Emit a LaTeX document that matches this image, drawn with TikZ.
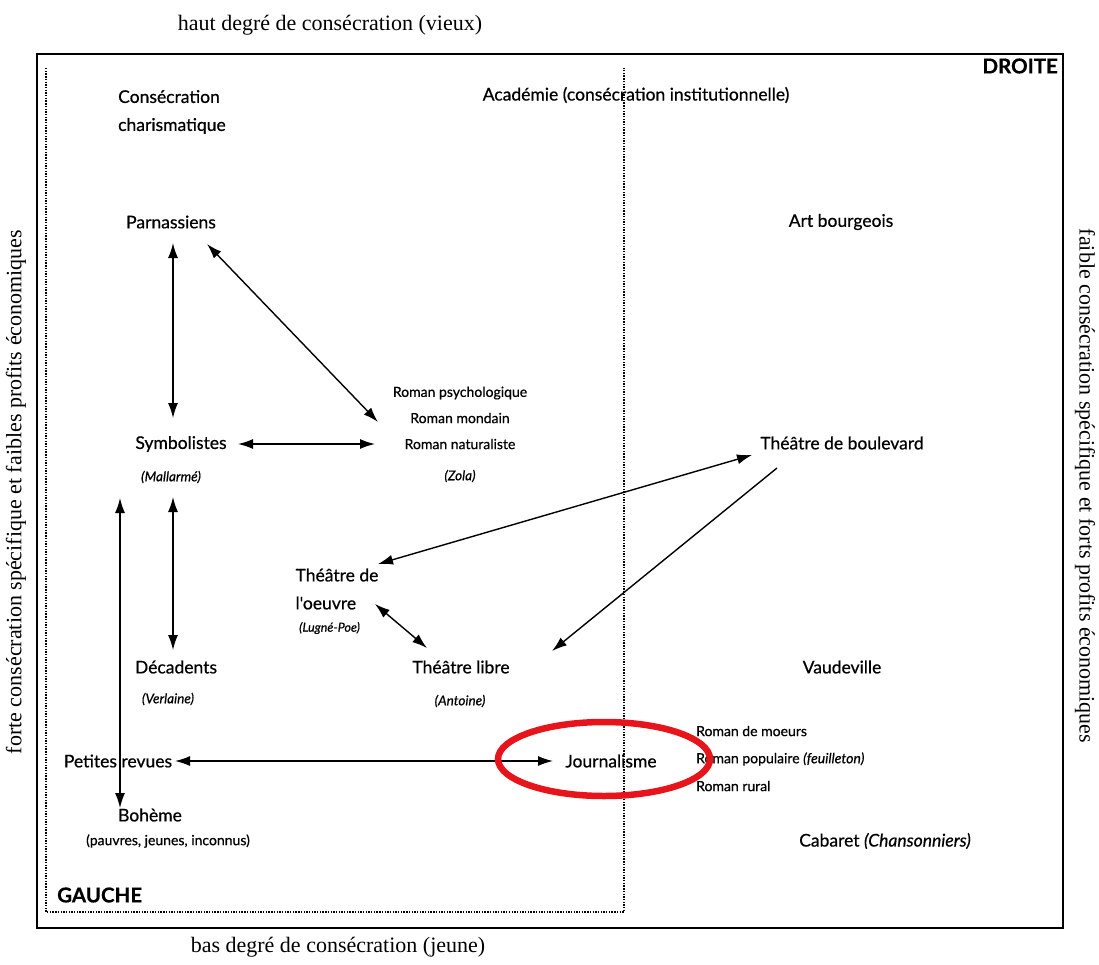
\documentclass[tikz,border=0pt]{standalone}
\usepackage{fontspec}
\setmainfont{Liberation Serif}
\newfontfamily\gill[FakeBold=0.6]{Lato}
\newfontfamily\gillb[FakeBold=0.5]{Lato}
\usetikzlibrary{arrows.meta}
\begin{document}
\begin{tikzpicture}[x=1pt,y=-1pt,
  lbl/.style={font=\gill\fontsize{17.5}{28}\selectfont, inner sep=2pt},
  small/.style={font=\gill\fontsize{14}{17}\selectfont, inner sep=2pt},
  sub/.style={font=\gill\itshape\fontsize{13.5}{15}\selectfont, inner sep=2pt},
  axis/.style={font=\fontsize{22}{26}\selectfont, inner sep=0pt},
  side/.style={font=\gillb\bfseries\fontsize{20.5}{24}\selectfont, inner sep=0pt},
  tipA/.style={-{Latex[length=15pt,width=10pt]}, line width=1.4pt},
  dbl/.style={{Latex[length=15pt,width=10pt]}-{Latex[length=15pt,width=10pt]}, line width=1.4pt},
  dots/.style={line width=1.6pt, dash pattern=on 1.4pt off 1.3pt}
]
\useasboundingbox (0,0) rectangle (1099,964);
% frames
\draw[line width=1.4pt] (37,54) rectangle (1063,928);
\draw[dots] (46,68) -- (46,912) -- (624,912) -- (624,68);
% axis labels
\node[axis] (haut) at (330,25) {haut degré de consécration (vieux)};
\node[axis] (bas) at (338,947) {bas degré de consécration (jeune)};
\node[axis, rotate=90] (forte) at (16,492) {forte consécration spécifique et faibles profits économiques};
\node[axis, rotate=-90] (faible) at (1085,486) {faible consécration spécifique et forts profits économiques};
\node[side, anchor=east] (droite) at (1058,66) {DROITE};
\node[side, anchor=west] (gauche) at (57,895) {GAUCHE};
% nodes
\node[lbl, anchor=west, align=left] (charis) at (116,112) {Consécration\\charismatique};
\node[lbl] (acad) at (636,95) {Académie (consécration institutionnelle)};
\node[lbl] (parn) at (171,222) {Parnassiens};
\node[lbl] (artb) at (841,222) {Art bourgeois};
\node[small] (rpsy) at (460,393) {Roman psychologique};
\node[small] (rmon) at (460,418) {Roman mondain};
\node[small] (rnat) at (460,444) {Roman naturaliste};
\node[sub] (zola) at (460,476) {(Zola)};
\node[lbl] (symb) at (181,444) {Symbolistes};
\node[sub] (mall) at (171,477) {(Mallarmé)};
\node[lbl] (boul) at (842,443) {Théâtre de boulevard};
\node[lbl, align=left] (oeuvre) at (337,589) {Théâtre de\\l'oeuvre};
\node[sub, anchor=west, font=\gill\itshape\fontsize{12.5}{13}\selectfont] (lugne) at (297,628) {(Lugné-Poe)};
\node[lbl] (deca) at (176,667) {Décadents};
\node[sub] (verl) at (168,699) {(Verlaine)};
\node[lbl] (libre) at (461,667) {Théâtre libre};
\node[sub] (anto) at (460,701) {(Antoine)};
\node[lbl] (vaud) at (842,667) {Vaudeville};
\node[lbl] (pet) at (118,761) {Petites revues};
\node[lbl] (journ) at (611,761) {Journalisme};
\node[small, anchor=west] (rmoe) at (694,731) {Roman de moeurs};
\node[small, anchor=west] (rpop) at (694,759) {Roman populaire \textit{(feuilleton)}};
\node[small, anchor=west] (rrur) at (694,786) {Roman rural};
\node[lbl] (boh) at (150,815) {Bohème};
\node[small] (pauv) at (168,841) {(pauvres, jeunes, inconnus)};
\node[lbl] (cab) at (885,841) {Cabaret \textit{(Chansonniers)}};
% connectors
\draw[dbl] ([shift={(2,21)}]parn.center) -- ([shift={(-8,-26)}]symb.center);
\draw[dbl] ([shift={(36,22)}]parn.center) -- ([shift={(-82,-22)}]rnat.center);
\draw[dbl] ([shift={(57,0)}]symb.center) -- ([shift={(-85,0)}]rnat.center);
\draw[dbl] ([shift={(-8,53)}]symb.center) -- ([shift={(-3,-17)}]deca.center);
\draw[dbl] ([shift={(-61,54)}]symb.center) -- ([shift={(-30,-7)}]boh.center);
\draw[dbl] ([shift={(57,0)}]pet.center) -- ([shift={(-58,0)}]journ.center);
\draw[dbl] ([shift={(-90,12)}]boul.center) -- ([shift={(41,-25)}]oeuvre.center);
\draw[tipA] ([shift={(-65,25)}]boul.center) -- ([shift={(91,-16)}]libre.center);
\draw[dbl] ([shift={(38,15)}]oeuvre.center) -- ([shift={(-34,-19)}]libre.center);
% red highlight
\draw[color={rgb,255:red,232;green,20;blue,27}, line width=6.5pt] (journ.center) ++(-7,-2) ellipse [x radius=106pt, y radius=37pt];
\end{tikzpicture}
\end{document}
